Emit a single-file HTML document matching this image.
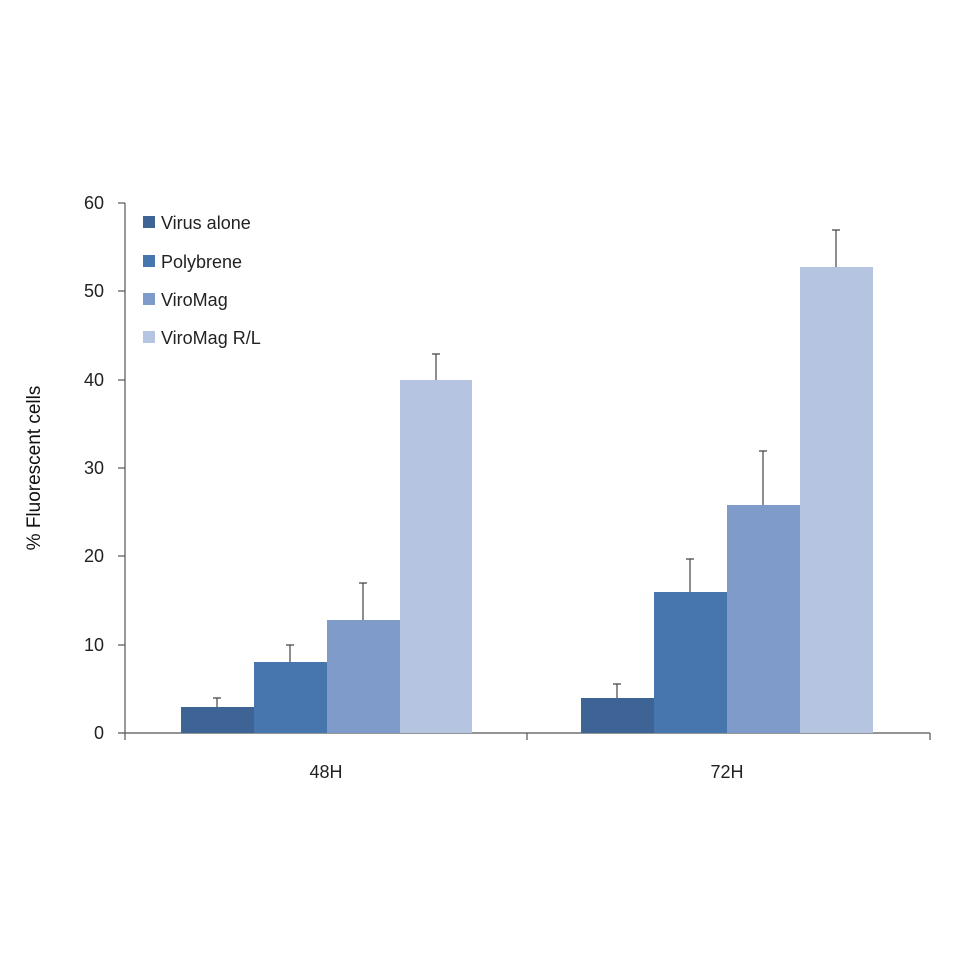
<!DOCTYPE html>
<html><head><style>body{margin:0;background:#fff}svg{display:block}</style></head><body>
<svg width="960" height="960" xmlns="http://www.w3.org/2000/svg" font-family="Liberation Sans, sans-serif">
<rect width="960" height="960" fill="#fff"/>
<g stroke="#555" stroke-width="1.2">
<line x1="125" y1="203" x2="125" y2="740"/>
<line x1="118" y1="733" x2="930" y2="733"/>
<line x1="118" y1="203" x2="125" y2="203"/>
<line x1="118" y1="291" x2="125" y2="291"/>
<line x1="118" y1="380" x2="125" y2="380"/>
<line x1="118" y1="468" x2="125" y2="468"/>
<line x1="118" y1="556" x2="125" y2="556"/>
<line x1="118" y1="645" x2="125" y2="645"/>
<line x1="527" y1="733" x2="527" y2="740"/>
<line x1="930" y1="733" x2="930" y2="740"/>
</g>
<g font-size="18" fill="#222" text-anchor="end">
<text x="104" y="209">60</text><text x="104" y="297">50</text><text x="104" y="386">40</text>
<text x="104" y="474">30</text><text x="104" y="562">20</text><text x="104" y="651">10</text><text x="104" y="739">0</text>
</g>
<text transform="translate(40,468) rotate(-90)" font-size="19" fill="#111" text-anchor="middle">% Fluorescent cells</text>
<text x="326" y="778" font-size="18" fill="#222" text-anchor="middle">48H</text>
<text x="727" y="778" font-size="18" fill="#222" text-anchor="middle">72H</text>
<rect x="181" y="707" width="73" height="26" fill="#3d6494"/>
<rect x="254" y="662" width="73" height="71" fill="#4776ae"/>
<rect x="327" y="620" width="73" height="113" fill="#7e9bc9"/>
<rect x="400" y="380" width="72" height="353" fill="#b5c4e0"/>
<rect x="581" y="698" width="73" height="35" fill="#3d6494"/>
<rect x="654" y="592" width="73" height="141" fill="#4776ae"/>
<rect x="727" y="505" width="73" height="228" fill="#7e9bc9"/>
<rect x="800" y="267" width="73" height="466" fill="#b5c4e0"/>
<g stroke="#444" stroke-width="1.2">
<path d="M217 707V698M213 698H221"/>
<path d="M290 662V645M286 645H294"/>
<path d="M363 620V583M359 583H367"/>
<path d="M436 380V354M432 354H440"/>
<path d="M617 698V684M613 684H621"/>
<path d="M690 592V559M686 559H694"/>
<path d="M763 505V451M759 451H767"/>
<path d="M836 267V230M832 230H840"/>
</g>
<rect x="143" y="216" width="12" height="12" fill="#3d6494"/>
<rect x="143" y="255" width="12" height="12" fill="#4776ae"/>
<rect x="143" y="293" width="12" height="12" fill="#7e9bc9"/>
<rect x="143" y="331" width="12" height="12" fill="#b5c4e0"/>
<g font-size="18" fill="#222">
<text x="161" y="229">Virus alone</text>
<text x="161" y="268">Polybrene</text>
<text x="161" y="306">ViroMag</text>
<text x="161" y="344">ViroMag R/L</text>
</g>
</svg>
</body></html>
